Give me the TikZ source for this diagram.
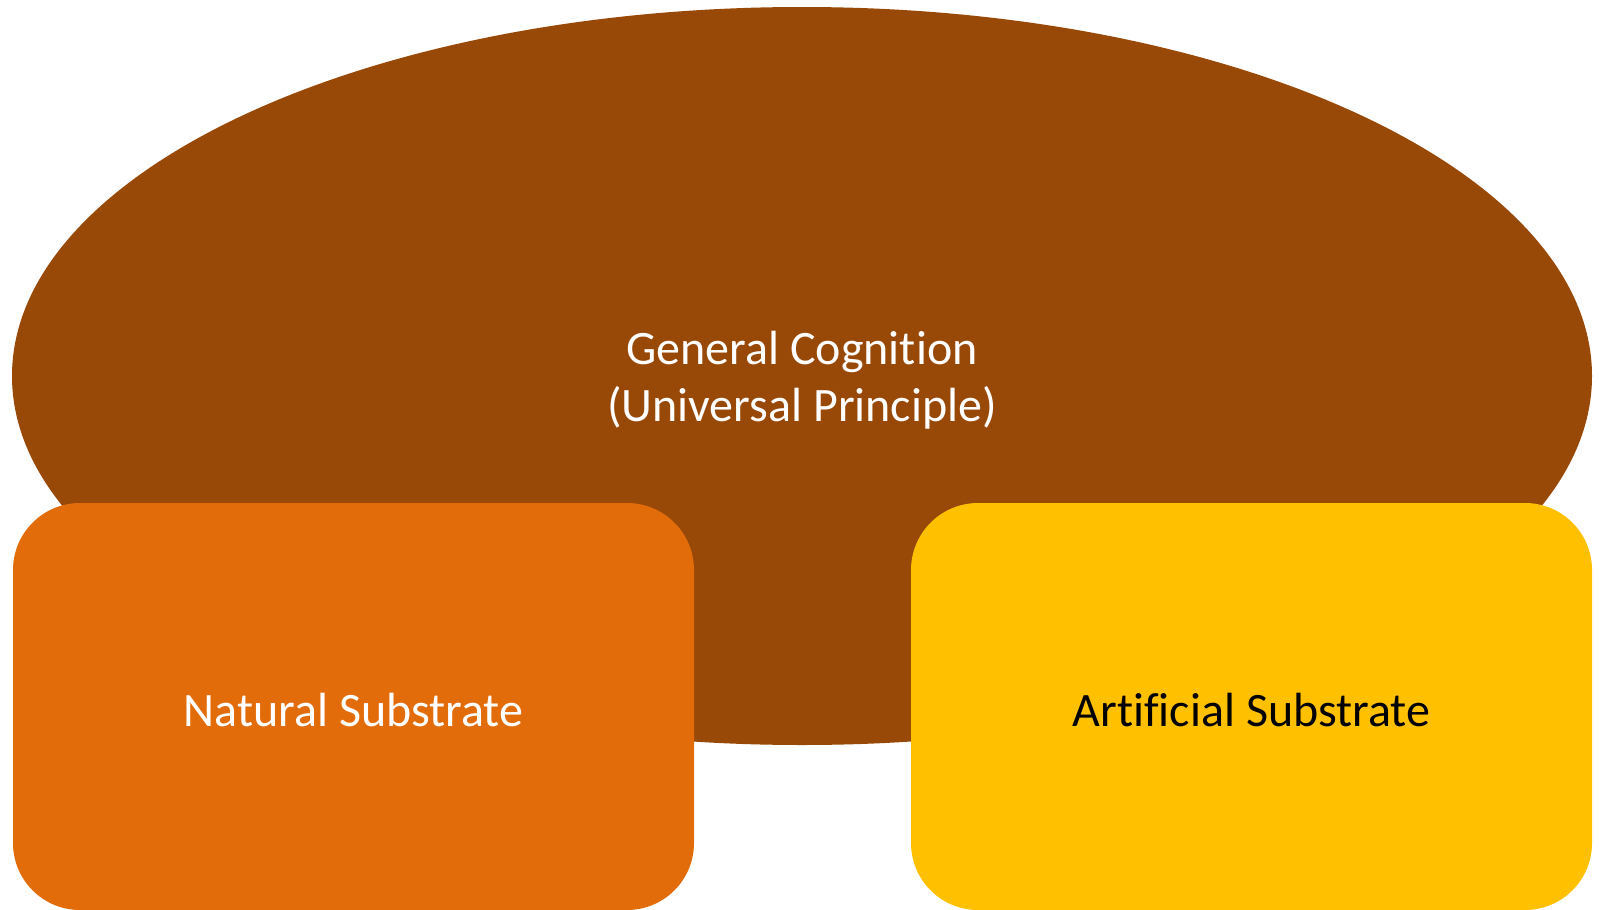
\documentclass[tikz,border=0pt]{standalone}
\usepackage{fontspec}
\setmainfont[Ligatures=NoCommon]{Carlito}
\usetikzlibrary{shapes.geometric}
\definecolor{cogbrown}{HTML}{984807}
\definecolor{natorange}{HTML}{E36C0A}
\definecolor{artyellow}{HTML}{FFC000}
\tikzset{
  label text/.style={font=\fontsize{48}{57}\selectfont, align=center},
  substrate/.style={rectangle, rounded corners=67pt, inner sep=0pt,
    minimum width=681pt, minimum height=407pt, label text,
    text height=40pt, text depth=0pt},
}
\begin{document}
\begin{tikzpicture}[x=1pt,y=-1pt]
  \useasboundingbox (0,0) rectangle (1599,910);
  % overarching principle
  \fill[cogbrown] (802,376) ellipse [x radius=790, y radius=369];
  \node[label text, text=white] (cog) at (802,380) {General Cognition\\(Universal Principle)};
  % the two substrates
  \node[substrate, fill=natorange, text=white] (nat) at (353.5,706.5) {Natural Substrate};
  \node[substrate, fill=artyellow, text=black] (art) at (1251.5,706.5) {Artificial Substrate};
\end{tikzpicture}
\end{document}
